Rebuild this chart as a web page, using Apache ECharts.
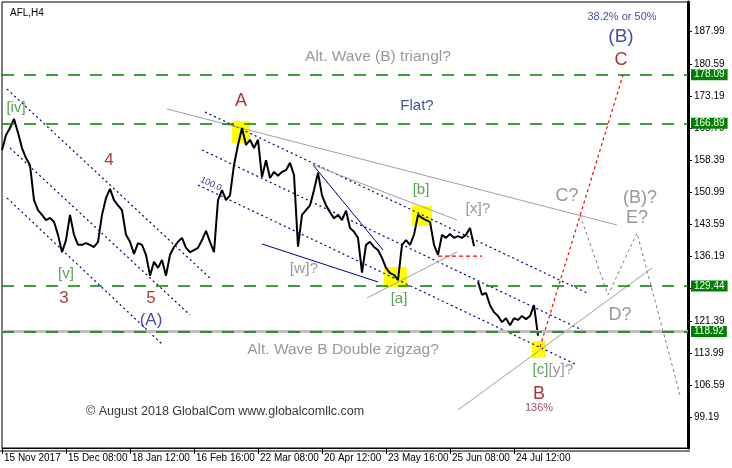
<!DOCTYPE html>
<html><head><meta charset="utf-8">
<script src="https://cdn.jsdelivr.net/npm/echarts@6/dist/echarts.min.js"></script>
<style>html,body{margin:0;padding:0;background:#fff}#c{width:732px;height:468px}</style>
</head><body><div id="c"></div><script>
// ---- data ----
const xTickIdx = [0,16,32,48,64,80,96,112,128];
const xTickLabels = ['15 Nov 2017','15 Dec 08:00','18 Jan 12:00','16 Feb 16:00','22 Mar 08:00','20 Apr 12:00','23 May 16:00','25 Jun 08:00','24 Jul 12:00'];
const yTicks = [99.19,106.59,113.99,121.39,128.79,136.19,143.59,150.99,158.39,165.79,173.19,180.59,187.99];
// closes, one per 4-bar step (bar index 0..118), before the weekend gap
const priceA = [160.7,164.2,165.8,167.9,164.7,161.2,158.9,157.3,149.2,146.9,
  145.8,144.6,145.1,144.2,141.2,137.2,140.0,145.8,141.2,138.9,
  138.9,139.3,138.9,138.4,139.6,145.8,149.7,151.8,149.2,148.0,
  146.9,141.2,139.6,136.8,139.3,138.9,136.6,131.8,135.0,133.6,
  135.4,131.8,136.6,138.4,139.6,140.5,138.2,137.2,137.7,138.2,
  140.0,142.1,139.6,137.2,149.2,151.5,149.2,150.3,157.3,161.9,
  165.8,161.9,163.1,161.2,163.1,154.5,158.4,154.3,155.7,154.8,
  155.7,156.1,157.8,155.0,138.5,145.8,146.9,148.0,151.5,155.5,
  150.3,148.0,146.4,145.0,145.8,144.6,146.8,142.8,141.9,140.5,
  132.5,138.9,139.6,138.4,137.7,135.9,133.6,132.4,132.0,130.8,
  138.9,140.0,138.9,141.2,145.8,145.1,144.6,144.2,138.9,136.6,
  141.2,140.5,141.4,140.5,140.9,140.5,141.2,142.8,138.6];
// after the gap (bar index 119..134)
const priceB = [130.4,127.4,127.8,125.0,123.4,122.5,121.1,122.0,120.4,122.0,121.6,122.5,121.8,122.5,125.0,118.0];
const levels = [178.09,166.89,129.44,118.92];
const lastPrice = 118.92;
// annotation lines: endpoints in [bar index, price]
const navyDotted = [
  [[1.25,174.79],[52.5,130.81]],
  [[2,161.21],[47,122.75]],
  [[1.25,149.69],[40.25,115.84]],
  [[50.75,169.50],[146.25,127.81]],
  [[50,160.75],[145,119.29]],
  [[49,152.68],[143.75,111.23]]
];
const navySolid = [
  [[77.75,157.29],[95.25,137.72]],
  [[65,139.10],[94,130.35]]
];
const graySolid = [
  [[41.25,170.19],[153.75,143.47]],
  [[77.75,157.29],[113.75,144.62]],
  [[91.25,126.66],[113.75,137.26]],
  [[114,100.87],[162.5,133.57]]
];
const redDashed = [[109,136.30],[120,136.30]];
const redDotted = [[134.5,115.37],[155.25,178.02]];
const grayPath = [[144.5,145.78],[151.5,127.35],[158.75,141.63],[169.5,104.32]];
const yellowBoxes = [
  [[57.5,167.42],[62,162.36]],
  [[102.5,147.85],[107.5,143.24]],
  [[95.5,133.80],[101.25,129.19]],
  [[132.5,116.76],[136,112.84]]
];
const annotations = [
  ['[iv]',3.5,170.42,'sub'],['[v]',16,132.19,'sub'],
  ['3',15.5,126.66,'num'],['4',26.75,158.44,'num'],['5',37.25,126.66,'num'],
  ['(A)',37.25,121.59,'deg'],['A',59.75,172.03,'big'],
  ['Flat?',103.75,170.88,'note'],['Alt. Wave (B) triangl?',94,182.16,'alt'],
  ['[b]',104.75,151.53,'sub'],['[x]?',119,147.27,'alt'],['[w]?',75.5,133.34,'alt'],
  ['[a]',99.25,126.43,'sub'],['C?',141.25,150.04,'altBig'],['(B)?',159.5,149.69,'altBig'],
  ['E?',158.75,145.1,'altBig'],['D?',154.5,122.63,'altBig'],
  ['Alt. Wave B Double zigzag?',85.25,114.69,'alt'],
  ['[c]',134.6,110.08,'sub'],['[y]?',139.75,110.08,'alt'],
  ['B',134.25,104.55,'big'],['136%',134.25,101.33,'pct'],
  ['\u00a9 August 2018 GlobalCom www.globalcomllc.com',55.75,100.41,'copy'],
  ['38.2% or 50%',155,191.38,'fib'],['(B)',154.75,186.77,'degBig'],['C',154.75,181.47,'big'],
  ['100.0',52.25,152.92,'fibline']
];
// ---- styles ----
const FONT = 'Liberation Sans';
const NAVY = '#12208c';
const textStyles = {
  sub:{color:'#2e8b2e',fontSize:15}, num:{color:'#8b0a0a',fontSize:17}, big:{color:'#920000',fontSize:18},
  deg:{color:NAVY,fontSize:17}, degBig:{color:NAVY,fontSize:19}, note:{color:NAVY,fontSize:15},
  alt:{color:'#808080',fontSize:15.5}, altBig:{color:'#808080',fontSize:18}, pct:{color:'#7a1a3a',fontSize:11},
  copy:{color:'#000',fontSize:12.5}, fib:{color:NAVY,fontSize:11}, fibline:{color:'#000080',fontSize:9,rotate:-25}
};
const chart = echarts.init(document.getElementById('c'), null, {renderer:'canvas'});
function seg(points, lineStyle, z){
  return {type:'line', data:points, symbol:'none', showSymbol:false, silent:true, z:z, lineStyle:lineStyle, animation:false};
}
const series = [];
// yellow boxes
series.push({type:'line', data:[], z:1, silent:true, markArea:{silent:true, itemStyle:{color:'#ffff00',opacity:1},
  data: yellowBoxes.map(b=>[{coord:b[0]},{coord:b[1]}])}});
// last-price gray line
series.push({type:'line', data:[], z:1, silent:true, markLine:{silent:true, symbol:'none', label:{show:false},
  lineStyle:{color:'#c0c0c0', width:3, type:'solid'}, data:[{yAxis:lastPrice}]}});
// level lines
series.push({type:'line', data:[], z:2, silent:true, markLine:{silent:true, symbol:'none',
  lineStyle:{color:'#008000', width:1.5, type:[12,10]},
  label:{show:true, position:'end', distance:3, formatter:p=>p.value.toFixed(2), color:'#fff', backgroundColor:'#008000',
    padding:[1,3,0,3], fontSize:10, fontFamily:FONT},
  data: levels.map(v=>({yAxis:v}))}});
navyDotted.forEach(s=>series.push(seg(s,{color:'#000080',width:1.2,type:[2,3]},2)));
navySolid.forEach(s=>series.push(seg(s,{color:'#000080',width:1,type:'solid'},2)));
graySolid.forEach(s=>series.push(seg(s,{color:'#a0a0a0',width:1,type:'solid'},2)));
series.push(seg(redDashed,{color:'#ff0000',width:1.2,type:[4,3]},2));
series.push(seg(redDotted,{color:'#ff0000',width:1.2,type:[3,3]},2));
series.push(seg(grayPath,{color:'#808080',width:1,type:[3,3]},2));
// price
series.push(seg(priceA.map((v,i)=>[i,v]),{color:'#000',width:2},3));
series.push(seg(priceB.map((v,i)=>[i+priceA.length,v]),{color:'#000',width:2},3));
// annotations
series.push({type:'scatter', symbolSize:0, z:5, silent:true,
  data: annotations.map(a=>{const st=textStyles[a[3]]; return {value:[a[1],a[2]],
    label:{show:true, position:'inside', formatter:a[0], color:st.color, fontSize:st.fontSize, rotate:st.rotate||0, fontFamily:FONT}};})});
chart.setOption({
  animation:false,
  backgroundColor:'#fff',
  title:{text:'AFL,H4', left:5, top:3, textStyle:{fontSize:10, fontWeight:'normal', color:'#000', fontFamily:FONT}},
  grid:{left:2, right:44, top:2, bottom:20, show:true, borderColor:'#000', borderWidth:1, backgroundColor:'#fff'},
  xAxis:{type:'value', min:0, max:171.5, splitLine:{show:false},
    axisLine:{show:true, onZero:false, lineStyle:{color:'#000', width:1}},
    axisTick:{show:true, customValues:xTickIdx, length:6, lineStyle:{color:'#000'}},
    axisLabel:{customValues:xTickIdx, formatter:v=>xTickLabels[xTickIdx.indexOf(v)], align:'left', margin:5,
      padding:[0,0,0,2], fontSize:10, color:'#000', fontFamily:FONT}},
  yAxis:{type:'value', position:'right', min:92.11, max:194.83, splitLine:{show:false},
    axisLine:{show:true, onZero:false, lineStyle:{color:'#000', width:3}},
    axisTick:{show:true, customValues:yTicks, length:4, lineStyle:{color:'#000'}},
    axisLabel:{customValues:yTicks, formatter:v=>v.toFixed(2), margin:6, fontSize:10, color:'#000', fontFamily:FONT}},
  graphic:[{type:'line', shape:{x1:0,y1:451,x2:690,y2:451}, style:{stroke:'#000', lineWidth:1}}],
  series: series
});
</script></body></html>
